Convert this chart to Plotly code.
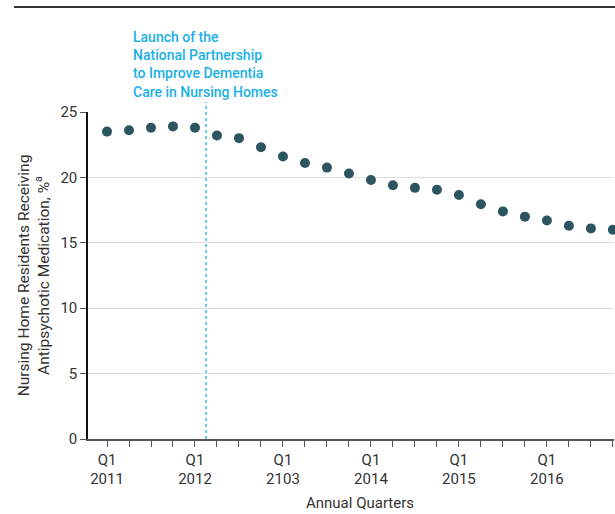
import plotly.graph_objects as go

quarter_index = list(range(24))
pct_values = [23.5, 23.6, 23.8, 23.9, 23.8, 23.2, 23.0, 22.3, 21.6, 21.1, 20.75, 20.3,
              19.8, 19.4, 19.2, 19.05, 18.65, 17.95, 17.4, 17.0, 16.7, 16.3, 16.1, 16.0]
tick_labels = ["Q1<br>2011", "", "", "", "Q1<br>2012", "", "", "",
               "Q1<br>2103", "", "", "", "Q1<br>2014", "", "", "",
               "Q1<br>2015", "", "", "", "Q1<br>2016", "", "", ""]
launch_x = 4.5
y_ticks = [0, 5, 10, 15, 20, 25]

W, H = 615, 514
ml, mr, mt, mb = 88, 1, 112, 75
ph = H - mt - mb

def py(pix):
    return (H - mb - pix) / ph

fig = go.Figure()
fig.add_trace(go.Scatter(
    x=quarter_index, y=pct_values, mode="markers",
    marker=dict(size=10, color="#2c5461"),
    cliponaxis=False, hoverinfo="skip", showlegend=False))

fig.add_shape(type="line", xref="x", yref="paper", x0=launch_x, x1=launch_x,
              y0=0, y1=py(102), line=dict(color="#33bdea", width=1.5, dash="dot"))
fig.add_shape(type="line", xref="paper", yref="paper",
              x0=(14 - ml) / (W - ml - mr), x1=(615 - ml) / (W - ml - mr),
              y0=py(7), y1=py(7), line=dict(color="#333333", width=2))

fig.add_annotation(xref="x", yref="paper", x=launch_x - (206 - 131) / 22, y=py(27),
                   xanchor="left", yanchor="top", align="left", showarrow=False,
                   text="Launch of the<br>National Partnership<br>to Improve Dementia<br>Care in Nursing Homes",
                   font=dict(family="Roboto", size=14, color="#1ab0e6", weight=500))
fig.add_annotation(xref="paper", yref="paper", x=(360 - ml) / (W - ml - mr), y=py(503),
                   xanchor="center", yanchor="middle", showarrow=False,
                   text="Annual Quarters", font=dict(family="Roboto", size=15, color="#333333"))

fig.update_layout(
    width=W, height=H, margin=dict(l=ml, r=mr, t=mt, b=mb),
    paper_bgcolor="white", plot_bgcolor="white",
    font=dict(family="Roboto", size=15, color="#333333"),
    xaxis=dict(range=[-0.864, 23.05], tickvals=quarter_index, ticktext=tick_labels,
               showgrid=False, zeroline=False, showline=True, linecolor="#555555", linewidth=1.5,
               ticks="outside", ticklen=6, tickcolor="#555555", tickwidth=1.2,
               tickfont=dict(family="Roboto", size=15, color="#333333")),
    yaxis=dict(range=[0, 25], tickvals=y_ticks, showgrid=True, gridcolor="#dddddd", gridwidth=1.2,
               zeroline=False, showline=True, linecolor="#111111", linewidth=1.5,
               ticks="outside", ticklen=6, tickcolor="#555555", tickwidth=1.2,
               tickfont=dict(family="Roboto", size=15, color="#333333"),
               title=dict(text="Nursing Home Residents Receiving<br>Antipsychotic Medication, %<sup>a</sup>",
                          font=dict(family="Roboto", size=15.5, color="#333333"), standoff=7)),
)

fig.write_html("out.html", config={"displayModeBar": False},
               post_script="document.body.style.margin='0';document.body.style.overflow='hidden';")
